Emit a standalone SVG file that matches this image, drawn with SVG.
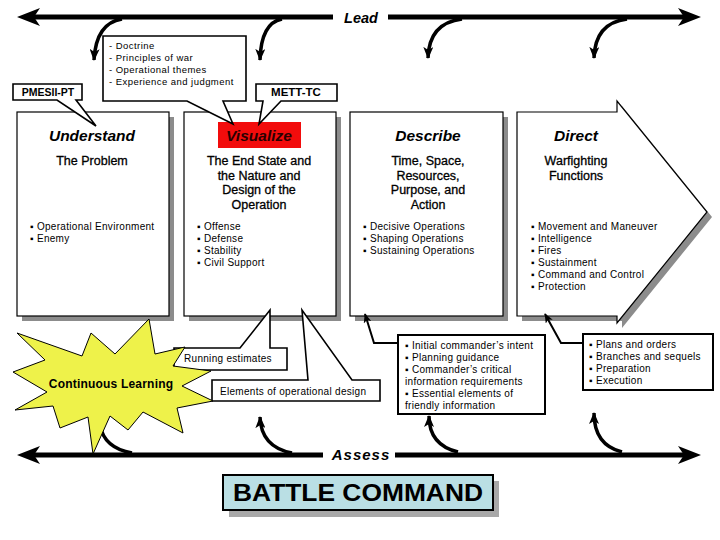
<svg xmlns="http://www.w3.org/2000/svg" width="720" height="540" viewBox="0 0 720 540">
<style>
.t{font-family:"Liberation Sans",Arial,sans-serif;fill:#000}
.title{font-size:15.5px;font-weight:bold;font-style:italic}
.sub{font-size:12.5px;text-anchor:middle;stroke:#000;stroke-width:0.3}
.bul{font-size:10px;letter-spacing:0.3px}
.box{fill:#fff;stroke:#000;stroke-width:1.2}
.shadow{fill:#8c8c8c}
.callout{fill:#fff;stroke:#000;stroke-width:1.6}
.thick{fill:none;stroke:#000;stroke-width:5}
.curve{fill:none;stroke:#000;stroke-width:3.5}
.head{fill:#000}
</style>
<defs>
<marker id="ah" viewBox="0 0 12 10" refX="11" refY="5" markerWidth="12" markerHeight="10" markerUnits="userSpaceOnUse" orient="auto">
<path d="M0,0 L12,5 L0,10 L3,5 Z" fill="#000"/>
</marker>
<marker id="ahs" viewBox="0 0 12 10" refX="11" refY="5" markerWidth="10" markerHeight="8" markerUnits="userSpaceOnUse" orient="auto">
<path d="M0,0 L12,5 L0,10 L3,5 Z" fill="#000"/>
</marker>
</defs>

<!-- Lead and Assess connectors -->
<g id="connectors">
<line class="thick" x1="32" y1="17" x2="333" y2="17"/>
<line class="thick" x1="388" y1="17" x2="688" y2="17"/>
<path class="head" d="M17,17 L40,8 L34,17 L40,26 Z"/>
<path class="head" d="M701,17 L678,8 L684,17 L678,26 Z"/>
<line class="thick" x1="32" y1="455" x2="323" y2="455"/>
<line class="thick" x1="395" y1="455" x2="688" y2="455"/>
<path class="head" d="M17,455 L40,446 L34,455 L40,464 Z"/>
<path class="head" d="M701,455 L678,446 L684,455 L678,464 Z"/>
<path class="curve" d="M122,19 Q96,23 94,60" marker-end="url(#ah)"/>
<path class="curve" d="M282,19 Q261,23 260,60" marker-end="url(#ah)"/>
<path class="curve" d="M462,19 Q429,23 428,58" marker-end="url(#ah)"/>
<path class="curve" d="M627,19 Q595,23 594,58" marker-end="url(#ah)"/>
<path class="curve" d="M132,453 Q104,448 100,425"/>
<path class="curve" d="M292,453 Q261,447 260,417" marker-end="url(#ah)"/>
<path class="curve" d="M458,452 Q429,445 429,416" marker-end="url(#ah)"/>
<path class="curve" d="M622,452 Q594,445 594,413" marker-end="url(#ah)"/>
</g>
<text class="t" x="361" y="23" font-size="14.5" font-weight="bold" font-style="italic" text-anchor="middle">Lead</text>
<text class="t" x="361" y="460" font-size="15" font-weight="bold" font-style="italic" text-anchor="middle" letter-spacing="1">Assess</text>

<!-- Understand -->
<g id="understand">
<rect class="shadow" x="22" y="117" width="152" height="204"/>
<rect class="box" x="17" y="112" width="152" height="204"/>
<text class="t title" x="92" y="141" text-anchor="middle">Understand</text>
<text class="t sub" x="92" y="165">The Problem</text>
<text class="t bul" x="30" y="230">▪ Operational Environment</text>
<text class="t bul" x="30" y="242">▪ Enemy</text>
</g>

<!-- Visualize -->
<g id="visualize">
<rect class="shadow" x="189" y="117" width="152" height="204"/>
<rect class="box" x="184" y="112" width="152" height="204"/>
<rect x="218" y="122" width="83" height="26" fill="#f20c0c"/>
<text class="t title" x="259" y="141" text-anchor="middle" style="fill:#2a0000">Visualize</text>
<text class="t sub" x="259" y="165">The End State and</text>
<text class="t sub" x="259" y="180">the Nature and</text>
<text class="t sub" x="259" y="194">Design of the</text>
<text class="t sub" x="259" y="209">Operation</text>
<text class="t bul" x="197" y="230">▪ Offense</text>
<text class="t bul" x="197" y="242">▪ Defense</text>
<text class="t bul" x="197" y="254">▪ Stability</text>
<text class="t bul" x="197" y="266">▪ Civil Support</text>
</g>

<!-- Describe -->
<g id="describe">
<rect class="shadow" x="355" y="117" width="153" height="204"/>
<rect class="box" x="350" y="112" width="153" height="204"/>
<text class="t title" x="428" y="141" text-anchor="middle">Describe</text>
<text class="t sub" x="428" y="165">Time, Space,</text>
<text class="t sub" x="428" y="180">Resources,</text>
<text class="t sub" x="428" y="194">Purpose, and</text>
<text class="t sub" x="428" y="209">Action</text>
<text class="t bul" x="363" y="230">▪ Decisive Operations</text>
<text class="t bul" x="363" y="242">▪ Shaping Operations</text>
<text class="t bul" x="363" y="254">▪ Sustaining Operations</text>
</g>

<!-- Direct -->
<g id="direct">
<polygon class="shadow" points="522,117 622,117 622,106 712,217 622,328 622,321 522,321"/>
<polygon class="box" points="517,112 617,112 617,101 707,212 617,323 617,316 517,316"/>
<text class="t title" x="576" y="141" text-anchor="middle">Direct</text>
<text class="t sub" x="576" y="165">Warfighting</text>
<text class="t sub" x="576" y="180">Functions</text>
<text class="t bul" x="531" y="230">▪ Movement and Maneuver</text>
<text class="t bul" x="531" y="242">▪ Intelligence</text>
<text class="t bul" x="531" y="254">▪ Fires</text>
<text class="t bul" x="531" y="266">▪ Sustainment</text>
<text class="t bul" x="531" y="278">▪ Command and Control</text>
<text class="t bul" x="531" y="290">▪ Protection</text>
</g>

<!-- Top callouts -->
<g id="pmesii">
<path class="callout" d="M13,84 H82 V100 H76 L96,126 L57,100 H13 Z"/>
<text class="t" x="48" y="96" font-size="10.5" font-weight="bold" text-anchor="middle">PMESII-PT</text>
</g>
<g id="doctrine">
<path class="callout" d="M103,36 H246 V101 H223 L233,124 L187,101 H103 Z"/>
<text class="t bul" x="109" y="49" style="font-size:9.5px;letter-spacing:0.45px">- Doctrine</text>
<text class="t bul" x="109" y="61" style="font-size:9.5px;letter-spacing:0.45px">- Principles of war</text>
<text class="t bul" x="109" y="73" style="font-size:9.5px;letter-spacing:0.45px">- Operational themes</text>
<text class="t bul" x="109" y="85" style="font-size:9.5px;letter-spacing:0.45px">- Experience and judgment</text>
</g>
<g id="mett">
<path class="callout" d="M256,84 H337 V101 H281 L259,124 L263,101 H256 Z"/>
<text class="t" x="296" y="96" font-size="11.5" font-weight="bold" text-anchor="middle">METT-TC</text>
</g>

<!-- Bottom callouts -->
<g id="running">
<path class="callout" d="M174,348 H240 L270,310 V348 H287 V370 H174 Z"/>
<text class="t bul" x="184" y="362">Running estimates</text>
</g>
<g id="elements">
<path class="callout" d="M212,380 H308 L302,310 L352,380 H380 V401 H212 Z"/>
<text class="t bul" x="220" y="395">Elements of operational design</text>
</g>

<!-- Continuous Learning star -->
<g id="learning">
<polygon fill="#eef24a" stroke="#000" stroke-width="1" points="17,333 82,356 91,333 115,354 149,319 155,354 185,347 173,366 211,371 182,386 213,401 177,408 183,433 143,412 128,430 110,416 93,454 88,417 60,428 53,406 15,410 47,392 13,372 45,360"/>
<text class="t" x="111" y="388" font-size="12" font-weight="bold" text-anchor="middle" letter-spacing="0.2">Continuous Learning</text>
</g>

<g id="intent">
<path class="curve" style="stroke-width:2" d="M398,343 H374 L365,314" marker-end="url(#ahs)"/>
<rect x="398" y="335" width="147" height="79" fill="#fff" stroke="#000" stroke-width="2"/>
<text class="t bul" x="405" y="349">▪ Initial commander’s intent</text>
<text class="t bul" x="405" y="361">▪ Planning guidance</text>
<text class="t bul" x="405" y="373">▪ Commander’s critical</text>
<text class="t bul" x="405" y="385">information requirements</text>
<text class="t bul" x="405" y="397">▪ Essential elements of</text>
<text class="t bul" x="405" y="409">friendly information</text>
</g>

<g id="plans">
<path class="curve" style="stroke-width:2" d="M583,343 H561 L545,314" marker-end="url(#ahs)"/>
<rect x="583" y="334" width="130" height="56" fill="#fff" stroke="#000" stroke-width="2"/>
<text class="t bul" x="589" y="348">▪ Plans and orders</text>
<text class="t bul" x="589" y="360">▪ Branches and sequels</text>
<text class="t bul" x="589" y="372">▪ Preparation</text>
<text class="t bul" x="589" y="384">▪ Execution</text>
</g>

<g id="battle">
<rect x="229" y="481" width="270" height="36" fill="#a8a8a8"/>
<rect x="223" y="475" width="270" height="35" fill="#badfe4" stroke="#000" stroke-width="2"/>
<text class="t" x="233" y="501" font-size="23" font-weight="bold" textLength="250" lengthAdjust="spacingAndGlyphs">BATTLE COMMAND</text>
</g>
</svg>
